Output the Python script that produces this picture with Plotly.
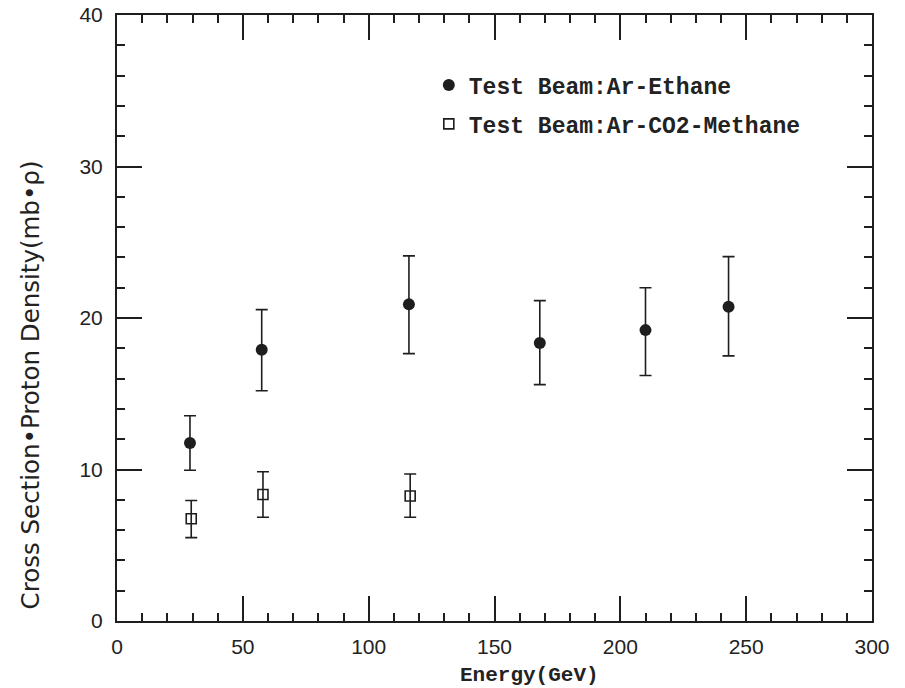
import plotly.graph_objects as go

# Data
eth_x = [29, 57.5, 116, 168, 210, 243]
eth_y = [11.75, 17.9, 20.9, 18.35, 19.2, 20.75]
eth_up = [1.8, 2.65, 3.2, 2.8, 2.8, 3.3]
eth_dn = [1.8, 2.7, 3.25, 2.75, 3.0, 3.25]

met_x = [29.5, 58, 116.5]
met_y = [6.75, 8.35, 8.25]
met_up = [1.2, 1.5, 1.45]
met_dn = [1.25, 1.5, 1.4]

x_ticks = [0, 50, 100, 150, 200, 250, 300]
y_ticks = [0, 10, 20, 30, 40]

INK = "#1e1e1e"

fig = go.Figure()
fig.add_trace(go.Scatter(
    x=eth_x, y=eth_y, mode="markers", name="Test Beam:Ar-Ethane", legendgroup="a",
    marker=dict(symbol="circle", size=12, color=INK, line=dict(width=0)),
    error_y=dict(type="data", symmetric=False, array=eth_up, arrayminus=eth_dn,
                 color=INK, thickness=1.6, width=6),
))
fig.add_trace(go.Scatter(
    x=met_x, y=met_y, mode="markers", name="Test Beam:Ar-CO2-Methane", legendgroup="b",
    marker=dict(symbol="square-open", size=10, color=INK, line=dict(width=1.6, color=INK)),
    error_y=dict(type="data", symmetric=False, array=met_up, arrayminus=met_dn,
                 color=INK, thickness=1.6, width=6),
))

axis_common = dict(
    showgrid=False, zeroline=False, showline=True, linecolor=INK, linewidth=2,
    mirror="ticks", ticks="inside", tickcolor=INK, tickwidth=1.6, ticklen=25,
    tickfont=dict(family="Liberation Sans", size=21, color="#222222"),
    ticklabeloverflow="allow", automargin=False,
)

fig.update_xaxes(
    range=[0, 300], tickvals=x_ticks, ticktext=[str(v) for v in x_ticks],
    minor=dict(dtick=10, ticks="inside", ticklen=8, tickcolor=INK, tickwidth=1.6),
    ticklabelstandoff=6,
    **axis_common,
)
fig.update_yaxes(
    range=[0, 40], tickvals=y_ticks, ticktext=[str(v) for v in y_ticks],
    minor=dict(dtick=2, ticks="inside", ticklen=8, tickcolor=INK, tickwidth=1.6),
    ticklabelstandoff=8,
    **axis_common,
)

fig.add_annotation(
    text="Energy(GeV)", xref="paper", yref="paper", x=0.547, y=-0.09,
    xanchor="center", yanchor="middle", showarrow=False,
    font=dict(family="Liberation Mono", size=21, color="#222222", weight="bold"),
)
fig.add_annotation(
    text="Cross Section\u2022Proton Density(mb\u2022\u03c1)", xref="paper", yref="paper",
    x=-0.115, y=0.389, xanchor="center", yanchor="middle", textangle=-90, showarrow=False,
    font=dict(family="DejaVu Sans", size=24.5, color="#222222"),
)

fig.update_layout(
    width=905, height=688,
    margin=dict(l=117, r=33, t=15, b=67, autoexpand=False),
    paper_bgcolor="white", plot_bgcolor="white",
    showlegend=True,
    legend=dict(
        x=0.413, y=0.92, xanchor="left", yanchor="top",
        bgcolor="rgba(0,0,0,0)", borderwidth=0,
        font=dict(family="Liberation Mono", size=23, color="#222222", weight="bold"),
        itemsizing="trace", tracegroupgap=6,
    ),
)

fig.write_html("out.html")
